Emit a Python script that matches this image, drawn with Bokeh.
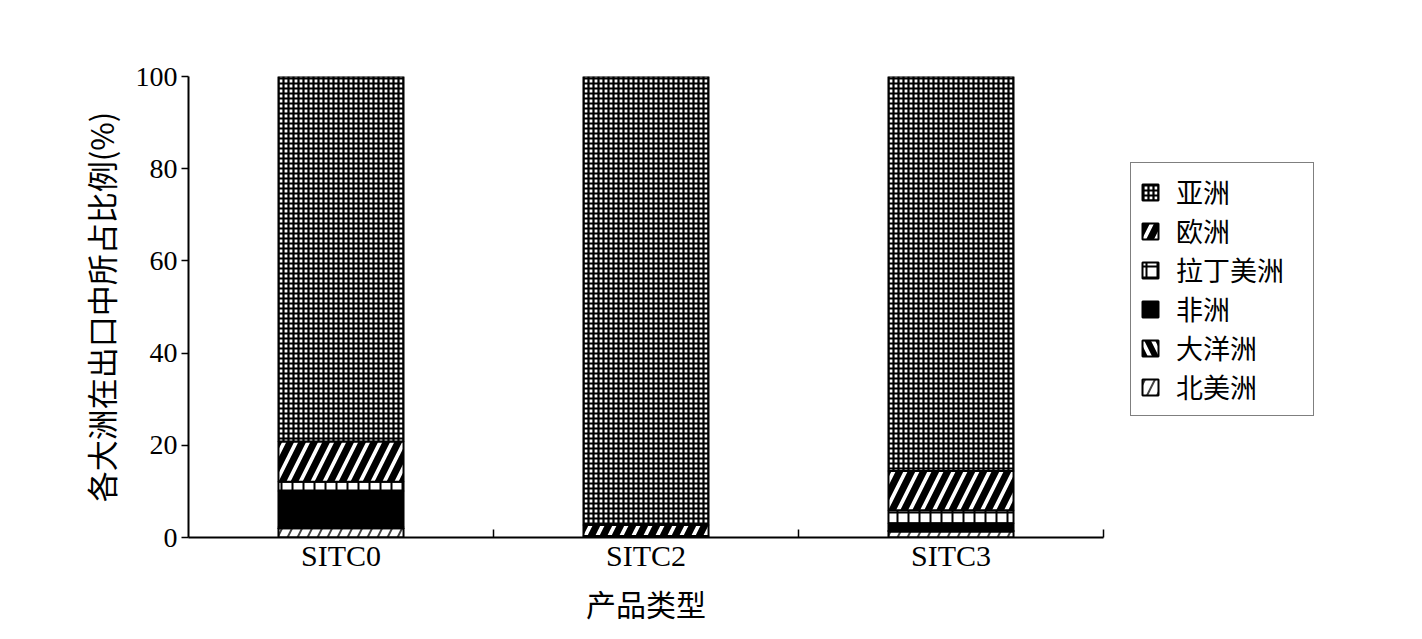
from bokeh.plotting import figure
from bokeh.models import ColumnDataSource, Range1d, FixedTicker, Legend, LegendItem
from bokeh.embed import file_html
from bokeh.resources import INLINE

# ---- data ----
categories = ["SITC0", "SITC2", "SITC3"]
regions = ["北美洲", "大洋洲", "非洲", "拉丁美洲", "欧洲", "亚洲"]  # bottom -> top
north_america = [2.0, 0.3, 1.3]
oceania = [0.3, 0.0, 0.2]
africa = [7.8, 0.0, 1.6]
latin_america = [2.0, 0.0, 2.8]
europe = [8.7, 2.4, 8.5]
asia = [79.2, 97.3, 85.6]
y_ticks = [0, 20, 40, 60, 80, 100]

series = [north_america, oceania, africa, latin_america, europe, asia]
styles = {
    "北美洲": dict(fill_color="white", hatch_pattern="right_diagonal_line", hatch_color="#444444", hatch_weight=2, hatch_scale=20),
    "大洋洲": dict(fill_color="white", hatch_pattern="left_diagonal_line", hatch_color="black", hatch_weight=6, hatch_scale=22),
    "非洲": dict(fill_color="black"),
    "拉丁美洲": dict(fill_color="white", hatch_pattern="cross", hatch_color="black", hatch_weight=2, hatch_scale=11),
    "欧洲": dict(fill_color="white", hatch_pattern="right_diagonal_line", hatch_color="black", hatch_weight=7, hatch_scale=24),
    "亚洲": dict(fill_color="white", hatch_pattern="cross", hatch_color="black", hatch_weight=2.2, hatch_scale=5),
}

x_pos = [i + 0.5 for i in range(len(categories))]
data = {"x": x_pos}
for name, vals in zip(regions, series):
    data[name] = vals
source = ColumnDataSource(data)

p = figure(frame_width=915, frame_height=461, output_backend="svg", toolbar_location=None,
           x_range=Range1d(0, 3), y_range=Range1d(0, 100),
           min_border_left=188, min_border_right=20, min_border_top=76, min_border_bottom=94)
p.outline_line_color = None
p.grid.grid_line_color = None
p.background_fill_color = "white"

renderers = p.vbar_stack(regions, x="x", width=0.41, source=source,
                         line_color="black", line_width=2, fill_color="white")
for r, name in zip(renderers, regions):
    st = styles[name]
    g = r.glyph
    g.fill_color = st["fill_color"]
    if "hatch_pattern" in st:
        g.hatch_pattern = st["hatch_pattern"]
        g.hatch_color = st["hatch_color"]
        g.hatch_weight = st["hatch_weight"]
        g.hatch_scale = st["hatch_scale"]

SERIF = "Liberation Serif"
CJK = "Noto Sans CJK SC"

xa = p.xaxis[0]
xa.ticker = FixedTicker(ticks=x_pos, minor_ticks=[1, 2, 3])
xa.major_label_overrides = {x: c for x, c in zip(x_pos, categories)}
xa.major_tick_in = 0
xa.major_tick_out = 0
xa.minor_tick_in = 8
xa.minor_tick_out = 0
xa.minor_tick_line_color = "black"
xa.minor_tick_line_width = 1.5
xa.axis_line_width = 2
xa.axis_line_color = "black"
xa.major_label_text_font = SERIF
xa.major_label_text_font_size = "30px"
xa.major_label_text_color = "black"
xa.major_label_standoff = 1
xa.axis_label = "产品类型"
xa.axis_label_text_font = CJK
xa.axis_label_text_font_size = "30px"
xa.axis_label_text_font_style = "normal"
xa.axis_label_text_color = "black"
xa.axis_label_standoff = 6

ya = p.yaxis[0]
ya.ticker = FixedTicker(ticks=y_ticks, minor_ticks=[])
ya.major_tick_in = 0
ya.major_tick_out = 7
ya.major_tick_line_width = 1.5
ya.axis_line_width = 2
ya.major_label_text_font = SERIF
ya.major_label_text_font_size = "28px"
ya.major_label_text_color = "black"
ya.major_label_standoff = 4
ya.axis_label = "各大洲在出口中所占比例(%)"
ya.axis_label_text_font = CJK
ya.axis_label_text_font_size = "31px"
ya.axis_label_text_font_style = "normal"
ya.axis_label_text_color = "black"
ya.axis_label_standoff = 10

items = [LegendItem(label=name, renderers=[r]) for name, r in zip(regions, renderers)][::-1]
legend = Legend(items=items, location=(27, 121))
legend.border_line_color = "black"
legend.border_line_width = 1.5
legend.label_text_font = CJK
legend.label_text_font_size = "27px"
legend.label_text_color = "black"
legend.glyph_width = 20
legend.glyph_height = 20
legend.label_height = 28
legend.label_width = 128
legend.label_standoff = 16
legend.spacing = 0
legend.padding = 9
legend.margin = 0
p.add_layout(legend, "right")

open("out.html", "w").write(file_html(p, INLINE))
